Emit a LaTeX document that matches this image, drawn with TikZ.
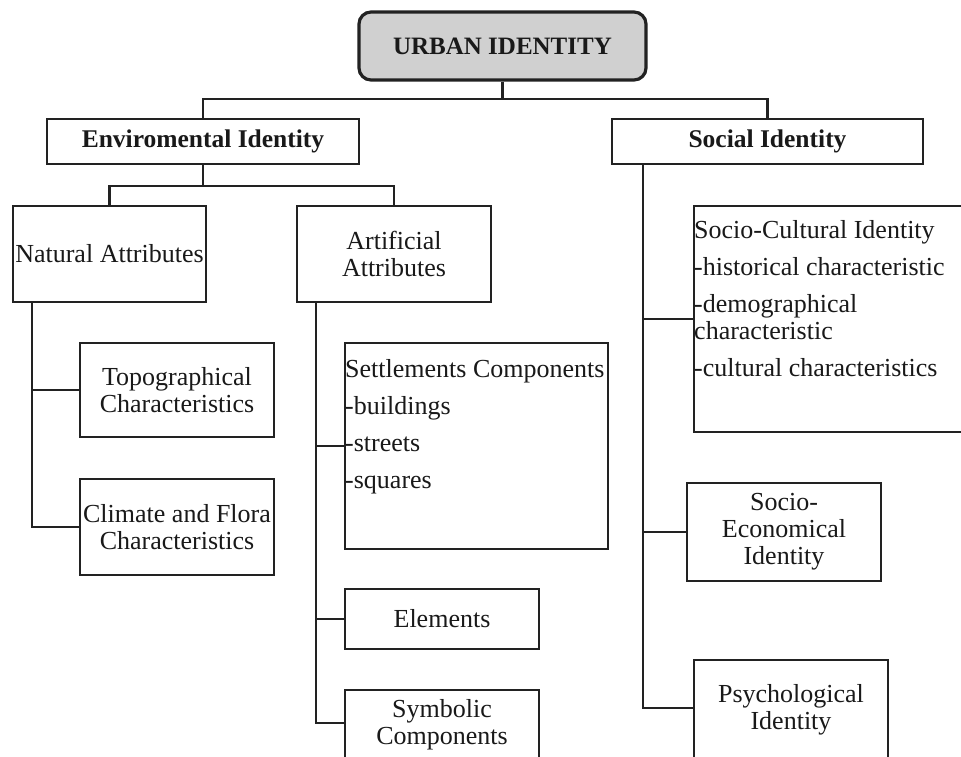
\documentclass[tikz,border=0pt]{standalone}
\usepackage{fontspec}
\setmainfont{Liberation Serif}
\definecolor{linec}{HTML}{222222}
\definecolor{topfill}{HTML}{D0D0D0}
\begin{document}
\begin{tikzpicture}[x=1pt,y=-1pt,
  box/.style={draw=linec, line width=2.6pt, fill=white, inner sep=0pt,
    align=center, text=black!90, font=\fontsize{26}{27}\selectfont},
  headbox/.style={box, font=\fontsize{25.5}{27}\selectfont\bfseries},
  topbox/.style={box, fill=topfill, rounded corners=12pt, line width=3.2pt,
    font=\fontsize{25}{27}\selectfont\bfseries},
  listtext/.style={inner sep=0pt, align=left, anchor=north west, text=black!90,
    font=\fontsize{26}{37}\selectfont},
  conn/.style={draw=linec, line width=2.6pt}]
\useasboundingbox (0,0) rectangle (961,756);
\fill[white] (0,0) rectangle (961,756);
\clip (0,0) rectangle (961,756);

% boxes
\node[topbox, minimum width=287, minimum height=68] (urban) at (502.5,46) {URBAN IDENTITY};
\node[headbox, minimum width=312, minimum height=45] (env) at (203,141.5) {Enviromental Identity};
\node[headbox, minimum width=311, minimum height=45] (soc) at (767.5,141.5) {Social Identity};
\node[box, minimum width=193, minimum height=96] (nat) at (109.5,254) {Natural Attributes};
\node[box, minimum width=194, minimum height=96] (art) at (394,254) {Artificial\\Attributes};
\node[box, minimum width=194, minimum height=94] (topo) at (177,390) {Topographical\\Characteristics};
\node[box, minimum width=194, minimum height=96] (clim) at (177,527) {Climate and Flora\\Characteristics};
\node[box, minimum width=263, minimum height=206] (sett) at (476.5,446) {};
\node[listtext] (setttxt) at (345,359) {Settlements Components\\-buildings\\-streets\\-squares};
\node[box, minimum width=194, minimum height=60] (elem) at (442,619) {Elements};
\node[box, minimum width=194, minimum height=70] (symb) at (442,725) {Symbolic\\Components};
\node[box, minimum width=283, minimum height=226] (cult) at (835.5,319) {};
\node[listtext] (culttxt) at (694,220) {Socio-Cultural Identity\\-historical characteristic\\-demographical\\[-10pt]characteristic\\-cultural characteristics};
\node[box, minimum width=194, minimum height=98] (econ) at (784,532) {Socio-\\Economical\\Identity};
\node[box, minimum width=194, minimum height=100] (psy) at (791,710) {Psychological\\Identity};

% junctions and trunks
\coordinate (j1) at (urban.south |- 0,99);
\coordinate (j2) at (env.south |- 0,186);
\coordinate (tn) at (nat.south -| 32,0);
\coordinate (ta) at (art.south -| 316,0);
\coordinate (ts) at (soc.south -| 643,0);

% connectors
\draw[conn] (urban.south) -- (j1);
\draw[conn] (env.north) |- (j1) -| (soc.north);
\draw[conn] (env.south) -- (j2);
\draw[conn] (nat.north) |- (j2) -| (art.north);
\draw[conn] (tn) |- (clim.west);
\draw[conn] (tn |- topo.west) -- (topo.west);
\draw[conn] (ta) |- ([yshift=2pt]symb.west);
\draw[conn] (ta |- sett.west) -- (sett.west);
\draw[conn] (ta |- elem.west) -- (elem.west);
\draw[conn] (ts) |- ([yshift=2pt]psy.west);
\draw[conn] (ts |- cult.west) -- (cult.west);
\draw[conn] (ts |- econ.west) -- (econ.west);
\end{tikzpicture}
\end{document}
